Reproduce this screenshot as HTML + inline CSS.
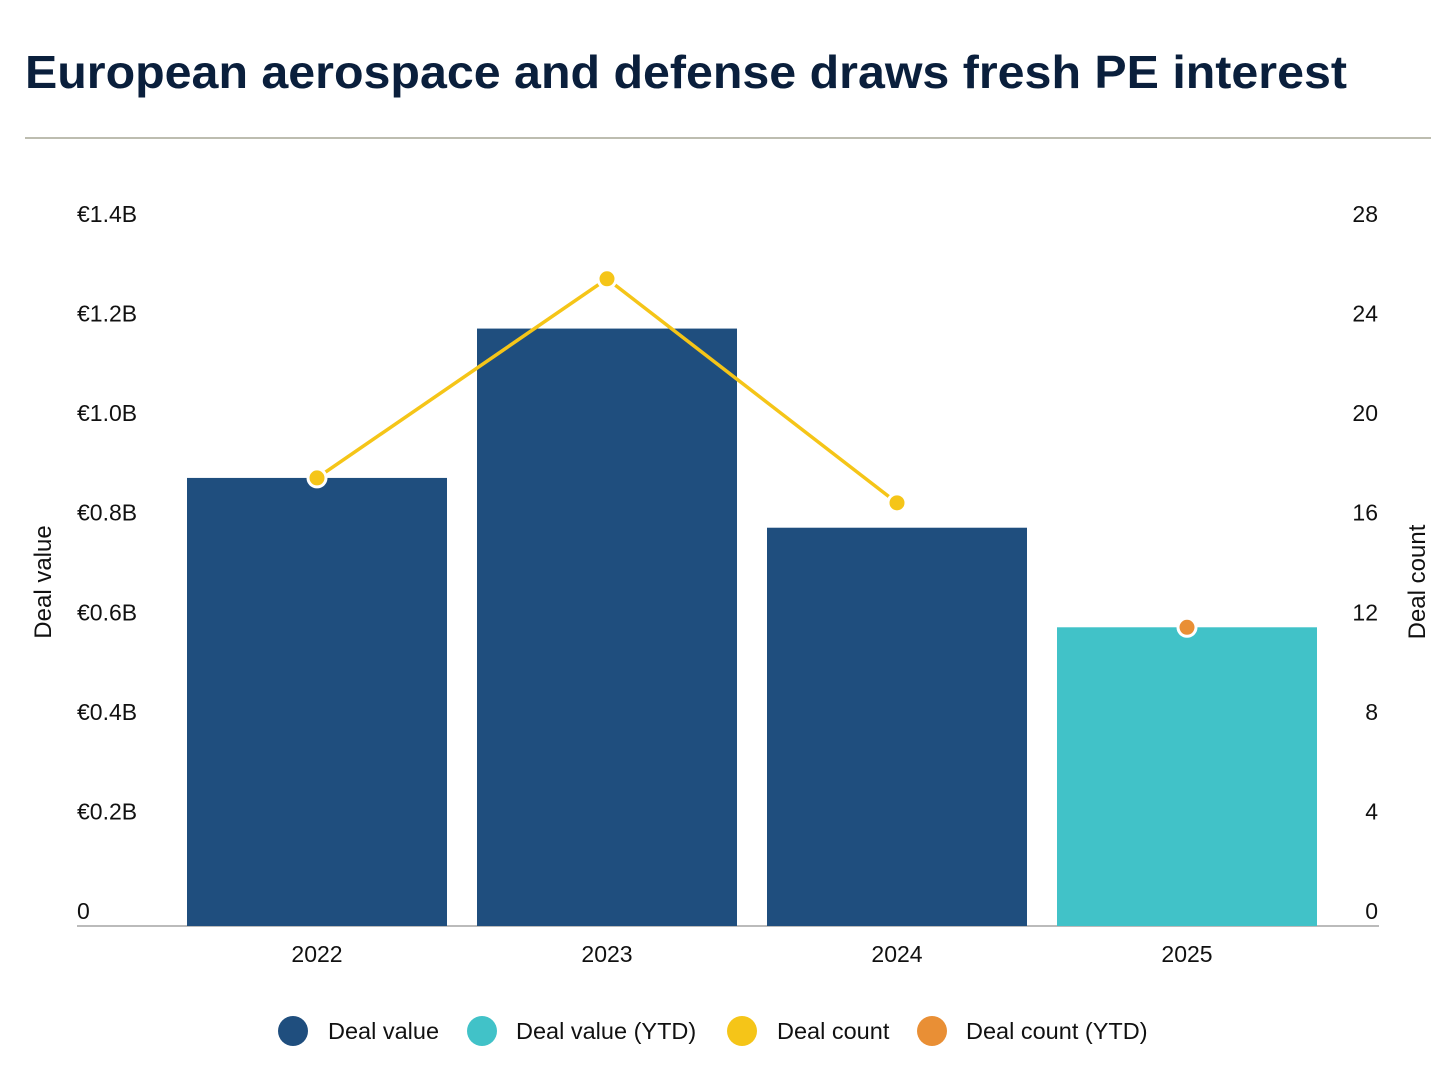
<!DOCTYPE html>
<html><head><meta charset="utf-8"><style>
html,body{margin:0;padding:0;background:#fff;}
svg{display:block;font-family:"Liberation Sans",sans-serif;}
</style></head><body>
<svg id="chart" width="1456" height="1079" viewBox="0 0 1456 1079" xmlns="http://www.w3.org/2000/svg">
<text x="25" y="88" font-size="46" font-weight="bold" fill="#0a1f3c" textLength="1322" lengthAdjust="spacingAndGlyphs">European aerospace and defense draws fresh PE interest</text>
<line x1="25" y1="138" x2="1431" y2="138" stroke="#bdbdb0" stroke-width="2"/>
<g id="axes"></g>
<g id="bars"></g>
<g id="line"></g>
<text transform="translate(51,582) rotate(-90)" text-anchor="middle" font-size="24" fill="#111">Deal value</text>
<text transform="translate(1425,582) rotate(-90)" text-anchor="middle" font-size="24" fill="#111">Deal count</text>
<g font-size="23.5" fill="#111">
<g><circle cx="293" cy="1031" r="15" fill="#1f4e7e"/><text x="328" y="1039">Deal value</text></g>
<g><circle cx="482" cy="1031" r="15" fill="#41c2c8"/><text x="516" y="1039">Deal value (YTD)</text></g>
<g><circle cx="742" cy="1031" r="15" fill="#f5c518"/><text x="777" y="1039">Deal count</text></g>
<g><circle cx="932" cy="1031" r="15" fill="#e98f35"/><text x="966" y="1039">Deal count (YTD)</text></g>
</g>
</svg>
<script>
const categories = ["2022","2023","2024","2025"];
const dealValue = [0.90, 1.20, 0.80, 0.60];
const dealCount = [18, 26, 17, 12];
const ytdFlags = [false, false, false, true];
const leftTicks = [0,0.2,0.4,0.6,0.8,1.0,1.2,1.4];
const leftTickLabels = ["0","€0.2B","€0.4B","€0.6B","€0.8B","€1.0B","€1.2B","€1.4B"];
const rightTicks = [0,4,8,12,16,20,24,28];

const NS="http://www.w3.org/2000/svg";
const baseY=926, topY=229;
function yL(v){return baseY-(v/1.4)*(baseY-topY);}
function yR(v){return baseY-(v/28)*(baseY-topY);}
function xC(i){return 317+290*i;}
const bw=260;
function mk(tag,attrs,parent){const e=document.createElementNS(NS,tag);for(const k in attrs)e.setAttribute(k,attrs[k]);parent.appendChild(e);return e;}
const axes=document.getElementById('axes'),bars=document.getElementById('bars'),line=document.getElementById('line');

leftTicks.forEach((t,i)=>{
  const e=mk('text',{x:77,y:yL(t)-7,'font-size':23,fill:'#111'},axes);
  
  
  e.textContent=leftTickLabels[i];
});
rightTicks.forEach(t=>{
  const e=mk('text',{x:1378,y:yR(t)-7,'font-size':23,fill:'#111','text-anchor':'end'},axes);
  
  
  e.textContent=String(t);
});
categories.forEach((c,i)=>{
  const e=mk('text',{x:xC(i),y:962,'font-size':23,fill:'#111','text-anchor':'middle'},axes);
  
  
  e.textContent=c;
  const b=mk('rect',{x:xC(i)-bw/2,y:yL(dealValue[i]),width:bw,height:baseY-yL(dealValue[i]),fill:ytdFlags[i]?'#41c2c8':'#1f4e7e'},bars);
  
  
});
const base=mk('line',{x1:77,y1:baseY,x2:1379,y2:baseY,stroke:'#bbb','stroke-width':2},axes);



let pts=[];
categories.forEach((c,i)=>{if(!ytdFlags[i])pts.push(xC(i)+','+yR(dealCount[i]));});
const pl=mk('polyline',{points:pts.join(' '),fill:'none',stroke:'#f5c518','stroke-width':3.5},line);


categories.forEach((c,i)=>{
  const p=mk('circle',{cx:xC(i),cy:yR(dealCount[i]),r:9,fill:ytdFlags[i]?'#e98f35':'#f5c518',stroke:'#fff','stroke-width':3},line);
  
  
});
</script>
</body></html>
